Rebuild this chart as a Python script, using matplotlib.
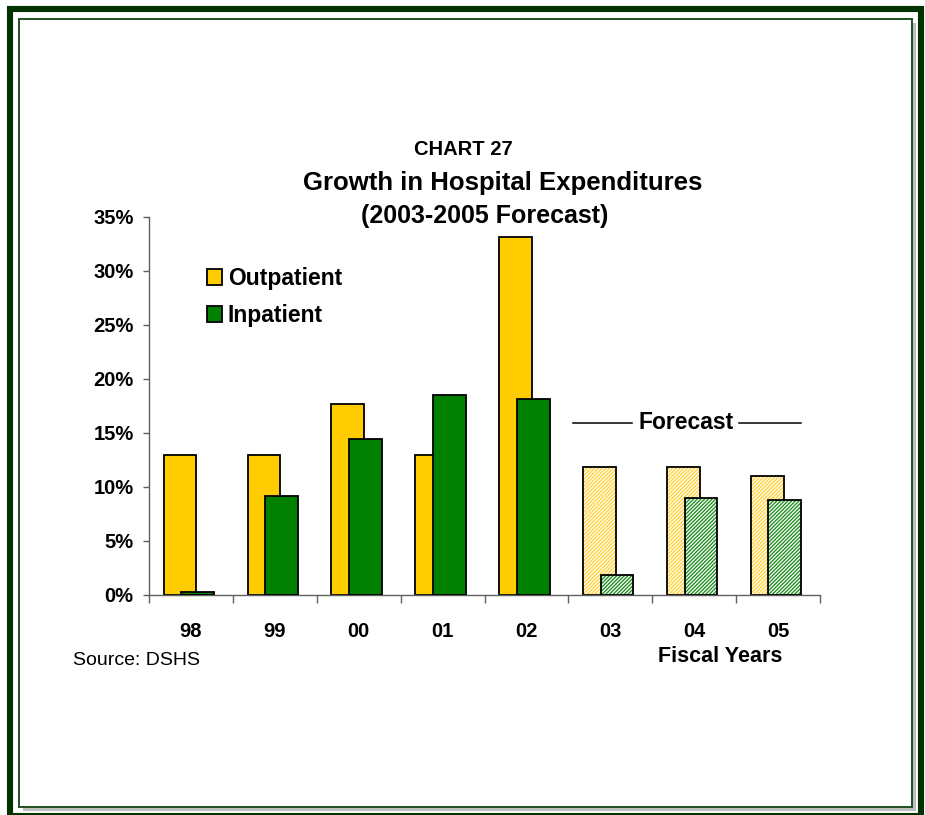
import matplotlib
matplotlib.use("Agg")
import matplotlib.pyplot as plt
from matplotlib.patches import Rectangle, Patch
import numpy as np

plt.rcParams['font.family'] = ['Liberation Sans', 'DejaVu Sans']

# ---- data ----
years = ["98", "99", "00", "01", "02", "03", "04", "05"]
outpatient = [12.9, 12.9, 17.7, 12.9, 33.1, 11.8, 11.8, 11.0]
inpatient = [0.25, 9.1, 14.4, 18.5, 18.1, 1.8, 9.0, 8.8]
forecast = [False, False, False, False, False, True, True, True]
yticks = [0, 5, 10, 15, 20, 25, 30, 35]

YELLOW = "#FFCC00"
GREEN = "#008000"
HATCH_Y = "#FFD23C"
HATCH_G = "#259025"

W, H = 925, 815
fig = plt.figure(figsize=(W / 100, H / 100), dpi=100)


def fx(x):
    return x / W


def fy(y):
    return 1 - y / H


# ---- frame ----
fig.add_artist(Rectangle((fx(23), fy(811)), fx(912 - 19), (807 - 18.5) / H,
                         transform=fig.transFigure, facecolor="#BDBDBD",
                         edgecolor="none", zorder=-3))
fig.add_artist(Rectangle((fx(19), fy(807)), fx(912 - 19), (807 - 18.5) / H,
                         transform=fig.transFigure, facecolor="white",
                         edgecolor="#1F4F1F", lw=1.4, zorder=-2))
fig.add_artist(Rectangle((fx(9.7), fy(816)), fx(921 - 9.7), (816 - 9) / H,
                         transform=fig.transFigure, facecolor="none",
                         edgecolor="#003300", lw=4.4, zorder=-1))

# ---- axes ----
AX_L, AX_R, AX_B, AX_T = 149, 820, 594.7, 216.7
ax = fig.add_axes([fx(AX_L), fy(AX_B), fx(AX_R - AX_L), (AX_B - AX_T) / H])
ax.set_facecolor("none")

x = np.arange(len(years))
bw = 0.39
off_o, off_i = -0.13, 0.08

plt.rcParams['hatch.linewidth'] = 1.0
HATCH = "/" * 9
for xi, o, inp, fc in zip(x, outpatient, inpatient, forecast):
    if not fc:
        ax.bar(xi + off_o, o, bw, color=YELLOW, edgecolor="black", lw=1.3, zorder=2)
        ax.bar(xi + off_i, inp, bw, color=GREEN, edgecolor="black", lw=1.3, zorder=3)
    else:
        ax.bar(xi + off_o, o, bw, facecolor="white", edgecolor=HATCH_Y, hatch=HATCH,
               lw=0, zorder=2)
        ax.bar(xi + off_o, o, bw, fill=False, edgecolor="black", lw=1.3, zorder=2.1)
        ax.bar(xi + off_i, inp, bw, facecolor="white", edgecolor=HATCH_G, hatch=HATCH,
               lw=0, zorder=3)
        ax.bar(xi + off_i, inp, bw, fill=False, edgecolor="black", lw=1.3, zorder=3.1)

ax.set_xlim(-0.5, len(years) - 0.5)
ax.set_ylim(0, 35)
for s in ["top", "right"]:
    ax.spines[s].set_visible(False)
for s in ["left", "bottom"]:
    ax.spines[s].set_color("#606060")
    ax.spines[s].set_linewidth(1.0)

ax.set_yticks(yticks)
ax.set_yticklabels([f"{v}%" for v in yticks], fontsize=14.5, fontweight="bold")
ax.tick_params(axis="y", direction="out", length=4, width=1, color="#606060", pad=7)

ax.set_xticks(x)
ax.set_xticklabels(years, fontsize=14.5, fontweight="bold")
ax.tick_params(axis="x", which="major", length=0, pad=20)
ax.set_xticks(np.arange(-0.5, len(years)), minor=True)
ax.tick_params(axis="x", which="minor", direction="out", length=6, width=1, color="#606060")

# legend
handles = [Patch(facecolor=YELLOW, edgecolor="black", lw=1.3, label="Outpatient"),
           Patch(facecolor=GREEN, edgecolor="black", lw=1.3, label="Inpatient")]
ax.legend(handles=handles, loc="upper left", bbox_to_anchor=(fx(207), fy(267)),
          bbox_transform=fig.transFigure, frameon=False, prop={"size": 16.5, "weight": "bold"},
          handlelength=0.66, handleheight=0.66, handletextpad=0.25, labelspacing=0.62,
          borderpad=0, borderaxespad=0)

# Forecast annotation
fy_level = 15.9
ax.plot([4.56, 5.26], [fy_level, fy_level], color="black", lw=1.1, clip_on=False)
ax.plot([6.53, 7.27], [fy_level, fy_level], color="black", lw=1.1, clip_on=False)
ax.text(5.9, fy_level, "Forecast", ha="center", va="center", fontsize=16.5,
        fontweight="bold")

# titles
fig.text(fx(463), fy(155), "CHART 27", ha="center", va="baseline", fontsize=14.5,
         fontweight="bold")
fig.text(fx(503), fy(190), "Growth in Hospital Expenditures", ha="center", va="baseline",
         fontsize=18.5, fontweight="bold")
fig.text(fx(485), fy(223), "(2003-2005 Forecast)", ha="center", va="baseline",
         fontsize=18, fontweight="bold")

fig.text(fx(73), fy(665), "Source: DSHS", ha="left", va="baseline", fontsize=14)
fig.text(fx(782), fy(662), "Fiscal Years", ha="right", va="baseline", fontsize=15.5,
         fontweight="bold")

fig.savefig("out.png", dpi=100)
